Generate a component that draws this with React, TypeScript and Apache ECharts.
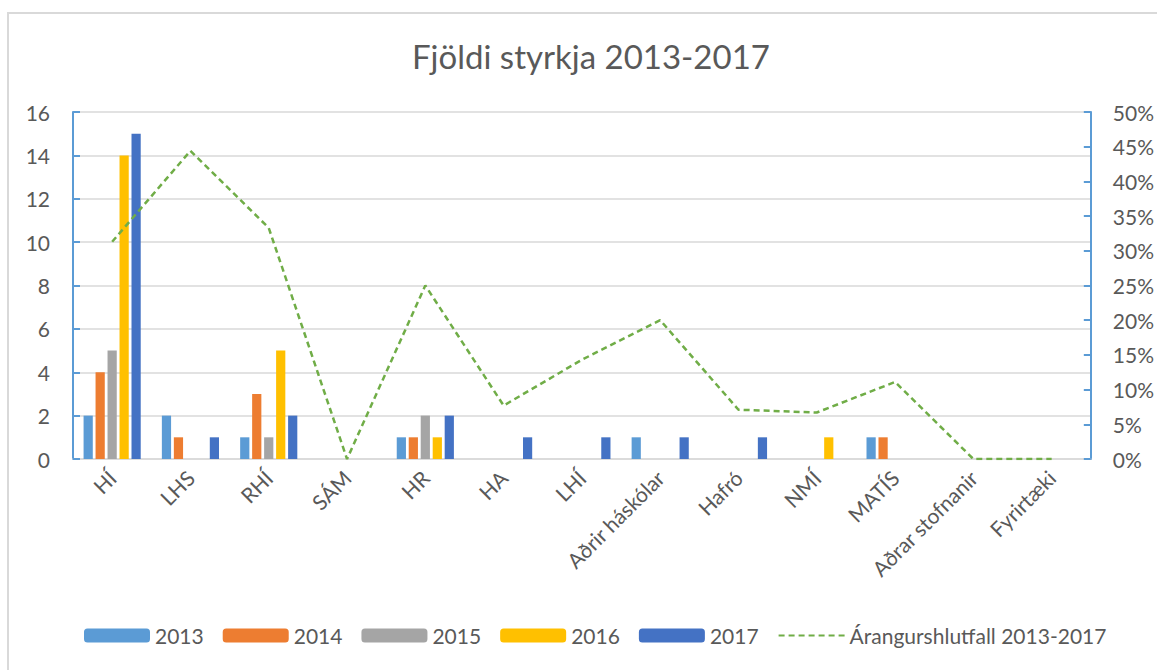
import React, { useEffect, useRef } from "react";
import * as echarts from "echarts";

const categories = [
  "HÍ", "LHS", "RHÍ", "SÁM", "HR", "HA", "LHÍ", "Aðrir háskólar",
  "Hafró", "NMÍ", "MATÍS", "Aðrar stofnanir", "Fyrirtæki",
];
const s2013 = [2, 2, 1, 0, 1, 0, 0, 1, 0, 0, 1, 0, 0];
const s2014 = [4, 1, 3, 0, 1, 0, 0, 0, 0, 0, 1, 0, 0];
const s2015 = [5, 0, 1, 0, 2, 0, 0, 0, 0, 0, 0, 0, 0];
const s2016 = [14, 0, 5, 0, 1, 0, 0, 0, 0, 1, 0, 0, 0];
const s2017 = [15, 1, 2, 0, 2, 1, 1, 1, 1, 0, 0, 0, 0];
const successRate = [0.313, 0.444, 0.333, 0, 0.25, 0.077, 0.143, 0.2, 0.071, 0.067, 0.111, 0, 0];

const FONT = "Lato";
const TXT = "#595959";
const BLUE_AXIS = "#5b9bd5";
const LINE_NAME = "Árangurshlutfall 2013-2017";

export default function App() {
  const ref = useRef<HTMLDivElement>(null);
  useEffect(() => {
    if (!ref.current) return;
    const chart = echarts.init(ref.current, undefined, { renderer: "svg" });
    const barSeries = (name: string, data: number[], color: string) => ({
      name,
      type: "bar",
      data,
      itemStyle: { color },
      barGap: "30%",
      barCategoryGap: "27%",
    });
    chart.setOption({
      animation: false,
      backgroundColor: "#ffffff",
      textStyle: { fontFamily: FONT },
      title: {
        text: "Fjöldi styrkja 2013-2017",
        left: 407,
        top: 34,
        textStyle: { fontFamily: FONT, fontSize: 33, fontWeight: "normal", color: TXT },
      },
      graphic: [
        {
          type: "rect",
          shape: { x: 8, y: 13, width: 1160, height: 670 },
          style: { fill: "none", stroke: "#d9d9d9", lineWidth: 2 },
          silent: true,
        },
      ],
      grid: { left: 73, right: 66, top: 112, bottom: 211 },
      legend: {
        bottom: 19,
        left: 79,
        itemWidth: 66,
        itemHeight: 14,
        itemGap: 19,
        textStyle: { fontFamily: FONT, fontSize: 21, color: TXT },
        data: [
          "2013", "2014", "2015", "2016", "2017",
          { name: LINE_NAME, itemStyle: { opacity: 0 } },
        ],
      },
      xAxis: {
        type: "category",
        data: categories,
        axisLine: { show: true, lineStyle: { color: "#d9d9d9", width: 1.5 } },
        axisTick: { show: false },
        axisLabel: {
          rotate: 45,
          fontFamily: FONT,
          fontSize: 21,
          color: TXT,
          margin: 15,
          interval: 0,
        },
      },
      yAxis: [
        {
          type: "value",
          min: 0,
          max: 16,
          interval: 2,
          axisLine: { show: true, lineStyle: { color: BLUE_AXIS, width: 2 } },
          axisTick: { show: true, inside: true, length: 7, lineStyle: { color: BLUE_AXIS, width: 2 } },
          splitLine: { show: true, lineStyle: { color: "#d9d9d9", width: 1.5 } },
          axisLabel: { fontFamily: FONT, fontSize: 21, color: TXT, margin: 23 },
        },
        {
          type: "value",
          min: 0,
          max: 0.5,
          interval: 0.05,
          position: "right",
          axisLine: { show: true, lineStyle: { color: BLUE_AXIS, width: 2 } },
          axisTick: { show: true, inside: true, length: 7, lineStyle: { color: BLUE_AXIS, width: 2 } },
          splitLine: { show: false },
          axisLabel: {
            fontFamily: FONT,
            fontSize: 21,
            color: TXT,
            margin: 22,
            formatter: (v: number) => Math.round(v * 100) + "%",
          },
        },
      ],
      series: [
        barSeries("2013", s2013, "#5b9bd5"),
        barSeries("2014", s2014, "#ed7d31"),
        barSeries("2015", s2015, "#a5a5a5"),
        barSeries("2016", s2016, "#ffc000"),
        barSeries("2017", s2017, "#4472c4"),
        {
          name: LINE_NAME,
          type: "line",
          yAxisIndex: 1,
          data: successRate,
          symbol: "none",
          itemStyle: { color: "#70ad47" },
          lineStyle: { color: "#70ad47", width: 2.5, type: [6, 4] },
        },
      ],
    });
    return () => chart.dispose();
  }, []);
  return (
    <div
      ref={ref}
      style={{ position: "absolute", left: 0, top: 0, width: 1157, height: 670 }}
    />
  );
}
